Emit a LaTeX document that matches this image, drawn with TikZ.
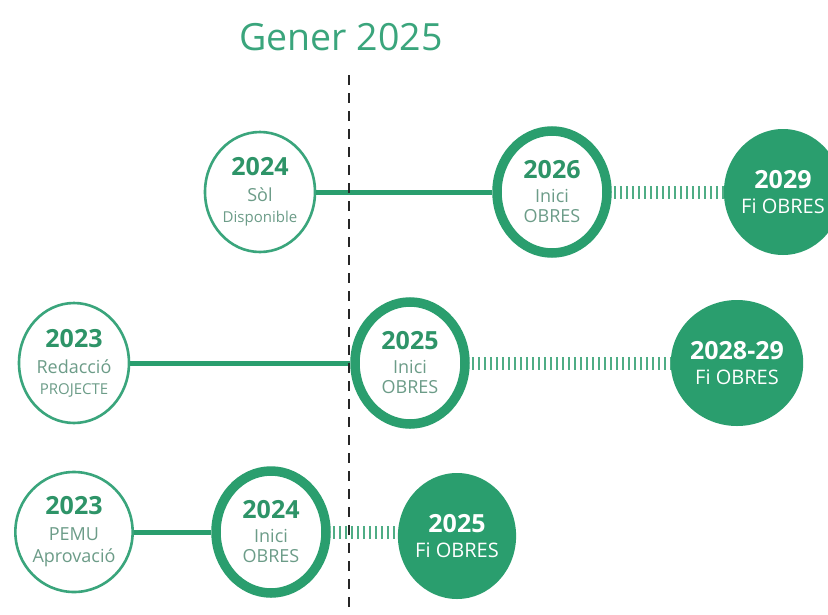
\documentclass[tikz,border=0pt]{standalone}
\usepackage{fontspec}
\setmainfont{Open Sans}
\usetikzlibrary{shapes.geometric}
\definecolor{gmain}{HTML}{2A9E6E}
\definecolor{gthin}{HTML}{3AA57C}
\definecolor{gyear}{HTML}{2E9468}
\definecolor{gsub}{HTML}{6C9C88}
\definecolor{ghatch}{HTML}{4FAD85}
\tikzset{
  thinc/.style={ellipse, draw=gthin, line width=2.6pt, fill=white, minimum width=110pt, minimum height=120pt, inner sep=0pt, align=center, font=\fontsize{18}{22}\selectfont},
  thickc/.style={ellipse, draw=gmain, line width=9.5pt, fill=white, minimum width=110pt, minimum height=122pt, inner sep=0pt, align=center, font=\fontsize{18}{20}\selectfont},
  fillc/.style={ellipse, fill=gmain, minimum width=113pt, minimum height=126pt, inner sep=0pt, align=center, text=white, font=\fontsize{19}{22}\selectfont},
  solidln/.style={draw=gmain, line width=5pt},
  hatchln/.style={draw=ghatch, line width=13pt, dash pattern=on 2.4pt off 3.6pt},
}
\newcommand{\yr}[1]{{\fontsize{25}{27}\selectfont\bfseries\color{gyear}#1}}
\newcommand{\yw}[1]{{\fontsize{25}{27}\selectfont\bfseries\color{white}#1}}
\newcommand{\sbig}[1]{{\fontsize{18}{22}\selectfont\color{gsub}#1}}
\newcommand{\ssmall}[1]{{\fontsize{15}{19}\selectfont\color{gsub}#1}}
\newcommand{\swhite}[1]{{\fontsize{20}{22}\selectfont\color{white}#1}}
\begin{document}
\begin{tikzpicture}[x=1pt,y=-1pt]
\useasboundingbox (0,0) rectangle (828,614);
\clip (0,0) rectangle (828,614);
\fill[white] (0,0) rectangle (828,614);
% title
\node[anchor=base, font=\fontsize{37.5}{40}\selectfont, text=gthin, inner sep=0pt] (title) at (341,50) {Gener 2025};
% dashed line
\coordinate (dtop) at (349,75);
\coordinate (dbot) at (349,614);
% row 1
\node[thinc] (a1) at (260,192) {\yr{2024}\\[4pt]\sbig{Sòl}\\[-1pt]\ssmall{Disponible}};
\node[thickc] (a2) at (552,192) {\yr{2026}\\[4pt]\sbig{Inici}\\\sbig{OBRES}};
\node[fillc] (a3) at (783,192) {\yw{2029}\\[3pt]\swhite{Fi OBRES}};
% row 2
\node[thinc] (b1) at (74,363) {\yr{2023}\\[4pt]\sbig{Redacció}\\[-1pt]\ssmall{PROJECTE}};
\node[thickc] (b2) at (410,363) {\yr{2025}\\[4pt]\sbig{Inici}\\\sbig{OBRES}};
\node[fillc] (b3) at (737,363) {\yw{2028-29}\\[3pt]\swhite{Fi OBRES}};
% row 3
\node[thinc] (c1) at (74,532) {\yr{2023}\\[4pt]\sbig{PEMU}\\\sbig{Aprovació}};
\node[thickc] (c2) at (271,532) {\yr{2024}\\[4pt]\sbig{Inici}\\\sbig{OBRES}};
\node[fillc] (c3) at (457,536) {\yw{2025}\\[3pt]\swhite{Fi OBRES}};
% connectors
\draw[solidln] (a1.east) -- (a2.west);
\draw[solidln] (b1.east) -- (b2.west);
\draw[solidln] (c1.east) -- (c2.west);
\draw[hatchln] ([xshift=2pt]a2.east) -- (a3.west);
\draw[hatchln] ([xshift=2pt]b2.east) -- (b3.west);
\draw[hatchln] ([xshift=2pt]c2.east) -- (c3.west |- c2.east);
% dashed vertical
\draw[black!85, line width=2.6pt, dash pattern=on 10pt off 8pt] (dtop) -- (dbot);
\end{tikzpicture}
\end{document}
